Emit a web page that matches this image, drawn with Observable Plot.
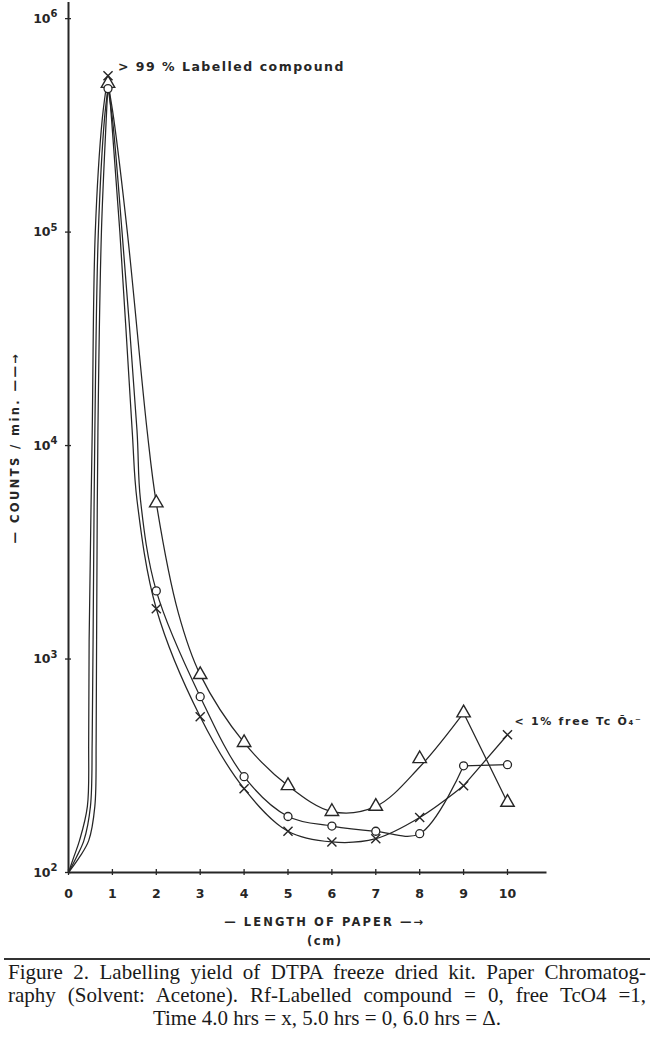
<!DOCTYPE html>
<html><head><meta charset="utf-8">
<script src="https://cdn.jsdelivr.net/npm/d3@7"></script>
<script src="https://cdn.jsdelivr.net/npm/@observablehq/plot@0.6"></script>
<style>
body{margin:0;background:#fff;width:650px;overflow:hidden;}
#chart svg{display:block}
.rule{height:0;border-top:2px solid #333;margin:3px 0 0 4px;}
.cap{font-family:"Liberation Serif","Times New Roman",serif;font-size:21px;line-height:23px;color:#1a1a1a;padding:1px 4px 0 8px;}
.j{text-align:justify;text-align-last:justify;white-space:nowrap;}
.c{text-align:center;}
</style></head><body>
<div id="chart"></div>
<div class="rule"></div>
<div class="cap">
<div class="j">Figure 2. Labelling yield of DTPA freeze dried kit. Paper Chromatog-</div>
<div class="j">raphy (Solvent: Acetone). Rf-Labelled compound = 0, free TcO4 =1,</div>
<div class="c">Time 4.0 hrs = x, 5.0 hrs = 0, 6.0 hrs = Δ.</div>
</div>
<script>
// ---- axes ----
const xTicks = [0, 1, 2, 3, 4, 5, 6, 7, 8, 9, 10];
const yTicks = [1e2, 1e3, 1e4, 1e5, 1e6];
const xDomain = [0, 10.9];
const yDomain = [100, 1.19e6];

// ---- measured points (markers) ----
const markerX = [0.9, 2, 3, 4, 5, 6, 7, 8, 9, 10];
const hrs4 = [540000, 1720, 537, 247, 156, 139, 144, 181, 255, 442];   // 4.0 hrs = x
const hrs5 = [470000, 2085, 666, 281, 183, 165, 156, 152, 316, 320];   // 5.0 hrs = o
const hrs6 = [497000, 5380, 845, 406, 255, 193, 204, 341, 559, 213];   // 6.0 hrs = triangle

// ---- traced hand-drawn curves [x, counts] ----
const rise4 = [[0,100],[0.12,118],[0.25,141],[0.43,204],[0.46,420],[0.47,1230],[0.54,11500],[0.61,100000],[0.77,340000],[0.9,540000]];
const rise5 = [[0,100],[0.18,118],[0.35,141],[0.5,204],[0.54,420],[0.56,1230],[0.6,11500],[0.68,100000],[0.82,340000],[0.9,470000]];
const rise6 = [[0,100],[0.25,118],[0.46,141],[0.6,204],[0.63,420],[0.64,1230],[0.67,11500],[0.75,100000],[0.86,340000],[0.9,497000]];
const fall4 = [[0.9,540000],[0.98,340000],[1.17,100000],[1.45,11800],[1.56,5560],[2,1720],[3,537],[4,247],[5,156],[6,139],[7,144],[8,181],[9,255],[10,442]];
const fall5 = [[0.9,470000],[1.0,340000],[1.22,100000],[1.56,11800],[1.64,5560],[2,2085],[3,666],[4,281],[5,183],[6,165],[7,156],[8,152],[9,316],[10,320]];
const fall6 = [[0.9,497000],[1.03,340000],[1.34,100000],[1.79,11800],[2,5380],[2.5,1650],[3,845],[4,406],[5,255],[6,193],[7,204],[8,312],[9,559],[10,213]];

// ---- text ----
const peakNote = "> 99 % Labelled compound";
const freeNote = "< 1% free Tc Ō₄⁻";
const yLabel = "— COUNTS / min. ——→";
const xLabel = "— LENGTH OF PAPER —→";
const xUnit = "(cm)";
const spacing = {[peakNote]: "1.5px", [freeNote]: "1.7px", [yLabel]: "2.4px", [xLabel]: "2.1px", [xUnit]: "1.5px"};

const sup = "⁰¹²³⁴⁵⁶⁷⁸⁹";
const ink = "#262626";

function pts(ys) { return markerX.map((x, i) => ({x, y: ys[i]})); }
function curveMarks(rise, fall) {
  return [
    Plot.line(rise, {curve: "catmull-rom", stroke: ink, strokeWidth: 1.25}),
    Plot.line(fall.filter(d => d[0] <= 9), {curve: "catmull-rom", stroke: ink, strokeWidth: 1.25}),
    Plot.line(fall.filter(d => d[0] >= 9), {stroke: ink, strokeWidth: 1.25})
  ];
}

const chart = Plot.plot({
  width: 650,
  height: 955,
  marginLeft: 68,
  marginRight: 103.5,
  marginTop: 2,
  marginBottom: 83,
  x: {domain: xDomain},
  y: {type: "log", domain: yDomain},
  style: {fontFamily: "DejaVu Sans", background: "white", color: ink},
  marks: [
    Plot.ruleX([xDomain[0]], {stroke: ink, strokeWidth: 2}),
    Plot.ruleY([yDomain[0]], {stroke: ink, strokeWidth: 2}),
    Plot.axisY({ticks: yTicks, tickFormat: d => "10" + sup[Math.round(Math.log10(d))], tickSize: 6, dx: 3, tickPadding: 8, fontSize: 12.5, fontWeight: "bold", label: null, strokeWidth: 1.3}),
    Plot.axisX({ticks: xTicks, tickSize: 6, dy: -3, tickPadding: 14, fontSize: 12.5, fontWeight: "bold", label: null, strokeWidth: 1.3}),
    ...curveMarks(rise4, fall4),
    ...curveMarks(rise5, fall5),
    ...curveMarks(rise6, fall6),
    Plot.dot(pts(hrs6), {x: "x", y: "y", symbol: "triangle", r: 5, fill: "white", stroke: ink, strokeWidth: 1.4}),
    Plot.dot(pts(hrs5), {x: "x", y: "y", symbol: "circle", r: 4, fill: "white", stroke: ink, strokeWidth: 1.3}),
    Plot.dot(pts(hrs4), {x: "x", y: "y", symbol: "times", r: 4.2, stroke: ink, strokeWidth: 1.4}),
    Plot.text([{x: markerX[0], y: hrs4[0]}], {x: "x", y: "y", text: [peakNote], textAnchor: "start", dx: 10, dy: -9, fontSize: 12.5, fontWeight: "bold"}),
    Plot.text([{x: markerX[9], y: hrs4[9]}], {x: "x", y: "y", text: [freeNote], textAnchor: "start", dx: 7, dy: -13, fontSize: 11, fontWeight: "bold"}),
    Plot.text([yLabel], {text: d => d, frameAnchor: "left", textAnchor: "middle", rotate: -90, dx: -53, dy: 10, fontSize: 11.5, fontWeight: "bold"}),
    Plot.text([xLabel], {text: d => d, frameAnchor: "bottom", textAnchor: "middle", dx: 17, dy: 53, fontSize: 11.5, fontWeight: "bold"}),
    Plot.text([xUnit], {text: d => d, frameAnchor: "bottom", textAnchor: "middle", dx: 17, dy: 72, fontSize: 11.5, fontWeight: "bold"})
  ]
});
d3.select(chart).selectAll('g[aria-label="text"] text').each(function() {
  const t = d3.select(this);
  const s = spacing[t.text()];
  if (s) t.style("letter-spacing", s);
});
// raise the exponent of the y tick labels
d3.select(chart).selectAll('g[aria-label="y-axis tick label"] text').each(function() {
  const t = d3.select(this);
  const s = t.text();
  const e = s.slice(2);
  t.text("10");
  t.append("tspan").attr("dy", "-0.55em").attr("font-size", "10px").text(String(sup.indexOf(e)));
});
document.getElementById("chart").appendChild(chart);
</script>
</body></html>
